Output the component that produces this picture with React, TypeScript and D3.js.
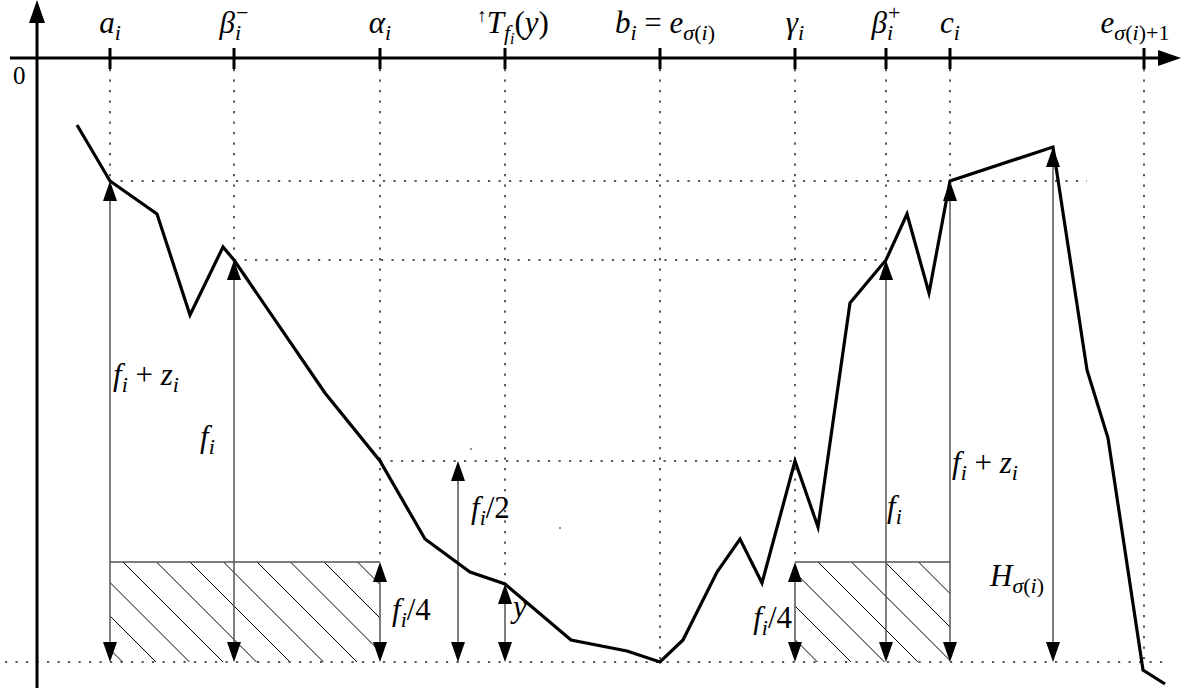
import React from 'react';
import * as d3 from 'd3';

const W = 1187;
const H = 691;

// Data units: x = distance to the right of the vertical axis,
// h = height above the lower (dotted) baseline.
const curveX = [40, 73, 120, 153, 186, 197, 288, 343, 388, 433, 468, 534, 590, 623, 646, 680, 703, 725, 758, 781, 813, 849, 870, 892, 913, 1016, 1050, 1071, 1106, 1128];
const curveH = [537, 481, 448, 347, 415, 402, 269, 201, 123, 90, 78, 22, 11, 0, 22, 90, 123, 79, 201, 135, 359, 402, 448, 369, 481, 515, 292, 224, -8, -22];

// ticks on the top axis
const tickX = [73, 197, 343, 468, 623, 758, 849, 913, 1107];
const tickGuideH = [481, 402, 100, 78, 0, 100, 402, 481, 0];
const tickLabelShift = [0, 0, 0, 8, 5, 0, 0, 0, -9];

type Seg = [string, string, number?];
const tickLabels: Seg[][] = [
  [['a', 'i'], ['i', 'si']],
  [['β', 'i'], ['i', 'si'], ['−', 'pr', -5]],
  [['α', 'i'], ['i', 'si']],
  [['↑', 'ar'], ['T', 'i'], ['f', 'si'], ['i', 'ssi'], ['(', 'r'], ['y', 'i'], [')', 'r']],
  [['b', 'i'], ['i', 'si'], [' = ', 'r'], ['e', 'i'], ['σ', 'si'], ['(', 'sr'], ['i', 'si'], [')', 'sr']],
  [['γ', 'i'], ['i', 'si']],
  [['β', 'i'], ['i', 'si'], ['+', 'pr', -5]],
  [['c', 'i'], ['i', 'si']],
  [['e', 'i'], ['σ', 'si'], ['(', 'sr'], ['i', 'si'], [')+1', 'sr']],
];

// double-headed measuring arrows (from baseline up to a level)
const arrowX = [73, 197, 343, 421, 468, 758, 849, 913, 1016];
const arrowTop = [481, 402, 100, 201, 78, 100, 402, 481, 515];

// horizontal dotted guides
const guideH = [481, 402, 201, 0];
const guideX0 = [73, 197, 343, -32];
const guideX1 = [1050, 849, 758, 1131];

// hatched rectangles
const hatchX0 = [73, 758];
const hatchX1 = [343, 913];
const hatchTop = 100;

// annotation labels
const annX = [76, 163, 355, 434, 476, 755, 850, 915, 953];
const annH = [277, 215, 42, 144, 45, 34, 145, 189, 76];
const annAnchor = ['start', 'start', 'start', 'start', 'start', 'end', 'start', 'start', 'start'];
const annSegs: Seg[][] = [
  [['f', 'i'], ['i', 'si'], [' + ', 'r'], ['z', 'i'], ['i', 'si']],
  [['f', 'i'], ['i', 'si']],
  [['f', 'i'], ['i', 'si'], ['/4', 'r']],
  [['f', 'i'], ['i', 'si'], ['/2', 'r']],
  [['y', 'i']],
  [['f', 'i'], ['i', 'si'], ['/4', 'r']],
  [['f', 'i'], ['i', 'si']],
  [['f', 'i'], ['i', 'si'], [' + ', 'r'], ['z', 'i'], ['i', 'si']],
  [['H', 'i'], ['σ', 'si'], ['(', 'sr'], ['i', 'si'], [')', 'sr']],
];

const specksX = [434, 523];
const specksH = [213, 134];

const STY: Record<string, { size: number; lvl: number; it: boolean }> = {
  i: { size: 31, lvl: 0, it: true },
  r: { size: 31, lvl: 0, it: false },
  si: { size: 22, lvl: 7, it: true },
  sr: { size: 22, lvl: 7, it: false },
  ssi: { size: 16, lvl: 11, it: true },
  pr: { size: 22, lvl: -13, it: false },
  ar: { size: 19, lvl: -11, it: false },
};

function MathText({ x, y, anchor, segs }: { x: number; y: number; anchor: string; segs: Seg[] }) {
  let prev = 0;
  return (
    <text x={x} y={y} textAnchor={anchor as any} fontFamily="'Liberation Serif', 'DejaVu Serif', serif" fill="#000" style={{ whiteSpace: 'pre' }}>
      {segs.map(([t, s, dx], k) => {
        const st = STY[s];
        const dy = st.lvl - prev;
        prev = st.lvl;
        return (
          <tspan key={k} dy={dy} dx={dx ?? 0} fontSize={st.size} fontStyle={st.it ? 'italic' : 'normal'}>
            {t}
          </tspan>
        );
      })}
    </text>
  );
}

export default function App() {
  const x = d3.scaleLinear().domain([0, 1143]).range([37, 1180]);
  const y = d3.scaleLinear().domain([0, 604]).range([662, 58]);
  const axisY = y(604);
  const axisX = x(0);

  const pts: [number, number][] = curveX.map((v, i) => [v, curveH[i]]);
  const line = d3.line<[number, number]>().x((d) => x(d[0])).y((d) => y(d[1]));

  const dotted = { stroke: '#222', strokeWidth: 1.5, strokeDasharray: '2.2 8.3', fill: 'none' };
  const AL = 20;
  const AW = 7;
  const hatchStep = 33.5;
  const hatchPhase = [123, 818];

  return (
    <svg width={W} height={H} style={{ position: 'absolute', left: 0, top: 0, display: 'block', background: '#fff' }}>
      <defs>
        {hatchX0.map((x0, i) => (
          <clipPath id={`hclip${i}`} key={i}>
            <rect x={x(x0)} y={y(hatchTop)} width={x(hatchX1[i]) - x(x0)} height={y(0) - y(hatchTop)} />
          </clipPath>
        ))}
      </defs>

      {/* hatching */}
      {hatchX0.map((x0, i) => {
        const left = x(x0);
        const right = x(hatchX1[i]);
        const top = y(hatchTop);
        const bot = y(0);
        const hgt = bot - top;
        const lines = [];
        const start = hatchPhase[i] - Math.ceil((hatchPhase[i] - (left - hgt)) / hatchStep) * hatchStep;
        for (let s = start; s < right; s += hatchStep) {
          lines.push(<line key={s} x1={s} y1={top} x2={s + hgt} y2={bot} stroke="#000" strokeWidth={1} />);
        }
        return (
          <g key={i}>
            <g clipPath={`url(#hclip${i})`}>{lines}</g>
            <line x1={left} x2={right} y1={top} y2={top} stroke="#555" strokeWidth={1.5} />
          </g>
        );
      })}

      {/* dotted guides */}
      {tickX.map((t, i) => (
        <line key={'vg' + i} x1={x(t)} x2={x(t)} y1={axisY + 11} y2={y(tickGuideH[i])} {...dotted} />
      ))}
      {guideH.map((h, i) => (
        <line key={'hg' + i} x1={x(guideX0[i])} x2={x(guideX1[i])} y1={y(h)} y2={y(h)} {...dotted} />
      ))}

      {/* measuring arrows */}
      {arrowX.map((a, i) => {
        const px = x(a);
        const t = y(arrowTop[i]);
        const b = y(0);
        return (
          <g key={'ar' + i}>
            <line x1={px} x2={px} y1={t + 4} y2={b - 4} stroke="#555" strokeWidth={1.5} />
            <path d={`M${px},${t} L${px - AW},${t + AL} L${px + AW},${t + AL} Z`} fill="#000" />
            <path d={`M${px},${b} L${px - AW},${b - AL} L${px + AW},${b - AL} Z`} fill="#000" />
          </g>
        );
      })}

      {/* curve */}
      <path d={line(pts) ?? ''} fill="none" stroke="#000" strokeWidth={3.2} strokeLinejoin="miter" strokeMiterlimit={10} />

      {/* specks */}
      {specksX.map((s, i) => (
        <rect key={'sp' + i} x={x(s) - 0.8} y={y(specksH[i]) - 0.8} width={1.6} height={1.6} fill="#555" />
      ))}

      {/* axes */}
      <line x1={axisX} x2={axisX} y1={688} y2={18} stroke="#000" strokeWidth={3} />
      <path d={`M${axisX},0 L${axisX - 8},23 L${axisX + 8},23 Z`} fill="#000" />
      <line x1={10} x2={1164} y1={axisY} y2={axisY} stroke="#000" strokeWidth={3} />
      <path d={`M1181,${axisY} L1158,${axisY - 8} L1158,${axisY + 8} Z`} fill="#000" />

      {tickX.map((t, i) => (
        <line key={'tk' + i} x1={x(t)} x2={x(t)} y1={axisY - 10} y2={axisY + 11} stroke="#000" strokeWidth={3} />
      ))}

      <text x={13} y={84} fontFamily="'Liberation Serif', serif" fontSize={25}>0</text>

      {tickX.map((t, i) => (
        <MathText key={'tl' + i} x={x(t) + tickLabelShift[i]} y={33} anchor="middle" segs={tickLabels[i]} />
      ))}

      {annX.map((a, i) => (
        <MathText key={'an' + i} x={x(a)} y={y(annH[i])} anchor={annAnchor[i]} segs={annSegs[i]} />
      ))}
    </svg>
  );
}
